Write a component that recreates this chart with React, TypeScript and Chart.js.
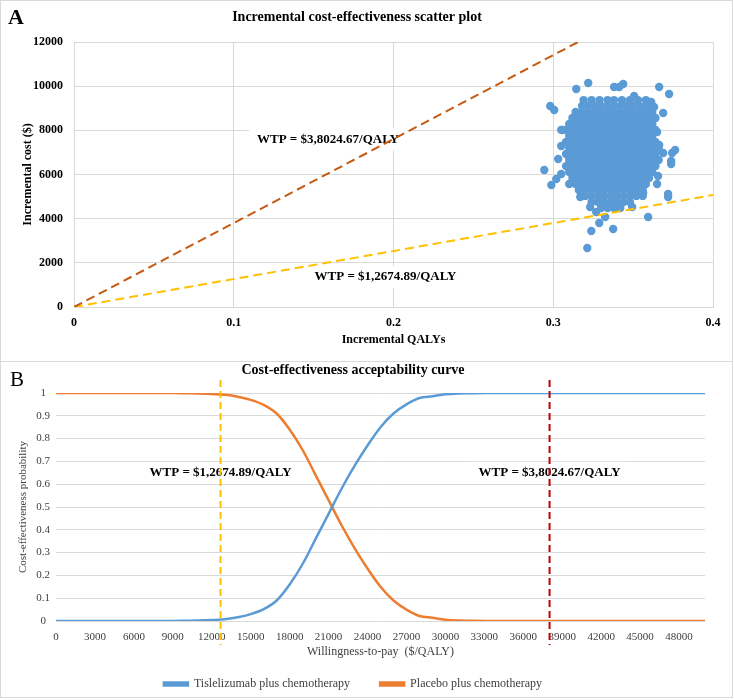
import React, { useEffect, useRef } from "react";
import { Chart, registerables } from "chart.js";

Chart.register(...registerables);

const FONT = "'Liberation Serif', 'Times New Roman', Times, serif";

// ---------- Panel A data ----------
const wtpHigh = 38024.67;
const wtpLow = 12674.89;
const wtpHighLabel = "WTP = $3,8024.67/QALY";
const wtpLowLabel = "WTP = $1,2674.89/QALY";

const qalyTicks = [0, 0.1, 0.2, 0.3, 0.4];
const costTicks = [0, 2000, 4000, 6000, 8000, 10000, 12000];

// dense core of the simulation cloud, row by row (cost value, then QALY values)
const cloudRowY = [9370, 9100, 8830, 8560, 8290, 8020, 7740, 7470, 7200, 6930, 6660, 6380, 6110, 5840, 5570, 5300, 5030, 4750, 4480];
const cloudRowX = [
  [0.319, 0.324, 0.329, 0.334, 0.338, 0.343, 0.348, 0.353, 0.358],
  [0.318, 0.322, 0.326, 0.33, 0.334, 0.338, 0.342, 0.346, 0.35, 0.354, 0.358, 0.362],
  [0.314, 0.318, 0.322, 0.326, 0.33, 0.334, 0.338, 0.342, 0.346, 0.35, 0.354, 0.358, 0.362],
  [0.312, 0.316, 0.32, 0.324, 0.328, 0.332, 0.336, 0.34, 0.344, 0.348, 0.352, 0.356, 0.36, 0.364],
  [0.31, 0.314, 0.318, 0.322, 0.326, 0.33, 0.334, 0.338, 0.342, 0.346, 0.35, 0.354, 0.358, 0.362],
  [0.305, 0.308, 0.312, 0.316, 0.32, 0.324, 0.328, 0.332, 0.336, 0.34, 0.344, 0.348, 0.352, 0.356, 0.36, 0.364],
  [0.31, 0.314, 0.318, 0.322, 0.326, 0.33, 0.334, 0.338, 0.342, 0.346, 0.35, 0.354, 0.358, 0.362],
  [0.308, 0.312, 0.316, 0.32, 0.324, 0.328, 0.332, 0.336, 0.34, 0.344, 0.348, 0.352, 0.356, 0.36, 0.364],
  [0.31, 0.314, 0.318, 0.322, 0.326, 0.33, 0.334, 0.338, 0.342, 0.346, 0.35, 0.354, 0.358, 0.362, 0.366],
  [0.308, 0.312, 0.316, 0.32, 0.324, 0.328, 0.332, 0.336, 0.34, 0.344, 0.348, 0.352, 0.356, 0.36, 0.364],
  [0.31, 0.314, 0.318, 0.322, 0.326, 0.33, 0.334, 0.338, 0.342, 0.346, 0.35, 0.354, 0.358, 0.362, 0.366],
  [0.308, 0.312, 0.316, 0.32, 0.324, 0.328, 0.332, 0.336, 0.34, 0.344, 0.348, 0.352, 0.356, 0.36, 0.364],
  [0.31, 0.314, 0.318, 0.322, 0.326, 0.33, 0.334, 0.338, 0.342, 0.346, 0.35, 0.354, 0.358, 0.362],
  [0.312, 0.316, 0.32, 0.324, 0.328, 0.332, 0.336, 0.34, 0.344, 0.348, 0.352, 0.356, 0.36],
  [0.31, 0.314, 0.318, 0.322, 0.326, 0.33, 0.334, 0.338, 0.342, 0.346, 0.35, 0.354, 0.358],
  [0.316, 0.32, 0.324, 0.328, 0.332, 0.336, 0.34, 0.344, 0.348, 0.352, 0.356],
  [0.32, 0.324, 0.328, 0.332, 0.336, 0.34, 0.344, 0.348, 0.352, 0.356],
  [0.324, 0.328, 0.332, 0.336, 0.34, 0.344, 0.348],
  [0.33, 0.334, 0.338, 0.342],
];

// scattered simulations around the core
const outlierQaly = [0.3219, 0.3144, 0.3381, 0.3413, 0.3438, 0.3663, 0.3725, 0.2981, 0.3006, 0.3688, 0.3056, 0.2944, 0.2988, 0.3763, 0.3744, 0.3738, 0.3738, 0.3688, 0.3656, 0.365, 0.3719, 0.3719, 0.3594, 0.3494, 0.3288, 0.3238, 0.3375, 0.3213, 0.3325, 0.3269, 0.3169, 0.3231, 0.3394, 0.3563, 0.3019, 0.305, 0.3031, 0.305, 0.3613, 0.3631, 0.3506, 0.3663, 0.365];
const outlierCost = [10143, 9871, 9962, 9962, 10097, 9962, 9645, 9101, 8920, 8784, 8015, 6203, 5524, 7109, 6973, 6611, 6475, 6973, 5932, 5569, 5117, 4981, 4075, 4528, 3804, 3441, 3532, 2672, 4075, 4302, 4981, 4528, 4709, 5162, 5796, 6022, 6701, 7290, 9282, 9056, 9554, 7335, 7924];

// ---------- Panel B data ----------
const wtpAxis = [0, 1000, 2000, 3000, 4000, 5000, 6000, 7000, 8000, 9000, 10000, 11000, 12000, 13000, 14000, 15000, 16000, 17000, 18000, 19000, 20000, 21000, 22000, 23000, 24000, 25000, 26000, 27000, 28000, 29000, 30000, 31000, 32000, 33000, 34000, 35000, 36000, 37000, 38000, 39000, 40000, 41000, 42000, 43000, 44000, 45000, 46000, 47000, 48000, 49000, 50000];
const probTislelizumab = [0, 0, 0, 0, 0, 0, 0, 0, 0, 0, 0.001, 0.002, 0.004, 0.008, 0.016, 0.03, 0.052, 0.09, 0.16, 0.25, 0.36, 0.47, 0.58, 0.68, 0.77, 0.85, 0.91, 0.95, 0.978, 0.986, 0.994, 0.998, 0.999, 1, 1, 1, 1, 1, 1, 1, 1, 1, 1, 1, 1, 1, 1, 1, 1, 1, 1];
const probPlacebo = [1, 1, 1, 1, 1, 1, 1, 1, 1, 1, 0.999, 0.998, 0.996, 0.992, 0.984, 0.97, 0.948, 0.91, 0.84, 0.75, 0.64, 0.53, 0.42, 0.32, 0.23, 0.15, 0.09, 0.05, 0.022, 0.014, 0.006, 0.002, 0.001, 0, 0, 0, 0, 0, 0, 0, 0, 0, 0, 0, 0, 0, 0, 0, 0, 0, 0];
const wtpTicks = [0, 3000, 6000, 9000, 12000, 15000, 18000, 21000, 24000, 27000, 30000, 33000, 36000, 39000, 42000, 45000, 48000];
const probTicks = [0, 0.1, 0.2, 0.3, 0.4, 0.5, 0.6, 0.7, 0.8, 0.9, 1];

const GRID = "#d9d9d9";

function drawLabel(ctx: CanvasRenderingContext2D, text: string, cx: number, cy: number, box: boolean) {
  ctx.save();
  ctx.font = `bold 13px ${FONT}`;
  const w = ctx.measureText(text).width;
  if (box) {
    ctx.fillStyle = "#ffffff";
    ctx.fillRect(cx - w / 2 - 8, cy - 11, w + 16, 22);
  }
  ctx.fillStyle = "#000";
  ctx.textAlign = "center";
  ctx.textBaseline = "middle";
  ctx.fillText(text, cx, cy);
  ctx.restore();
}

function ScatterPanel() {
  const ref = useRef<HTMLCanvasElement>(null);
  useEffect(() => {
    const pts: { x: number; y: number }[] = [];
    cloudRowY.forEach((y, r) => cloudRowX[r].forEach((x) => pts.push({ x, y })));
    outlierQaly.forEach((x, i) => pts.push({ x, y: outlierCost[i] }));

    const annot = {
      id: "annotA",
      beforeDatasetsDraw(chart: any) {
        const { ctx, scales } = chart;
        drawLabel(ctx, wtpHighLabel, scales.x.getPixelForValue(0.159), scales.y.getPixelForValue(7600), true);
        drawLabel(ctx, wtpLowLabel, scales.x.getPixelForValue(0.195), scales.y.getPixelForValue(1360), true);
      },
    };

    const tickFont = { family: FONT, size: 12, weight: "bold" as const };
    const chart = new Chart(ref.current!, {
      type: "scatter",
      data: {
        datasets: [
          {
            type: "line",
            data: [{ x: 0, y: 0 }, { x: 12000 / wtpHigh, y: 12000 }],
            borderColor: "#C55A11",
            borderWidth: 2,
            borderDash: [9, 5],
            pointRadius: 0,
            fill: false,
          } as any,
          {
            type: "line",
            data: [{ x: 0, y: 0 }, { x: 0.4, y: 0.4 * wtpLow }],
            borderColor: "#FFC000",
            borderWidth: 2,
            borderDash: [9, 5],
            pointRadius: 0,
            fill: false,
          } as any,
          {
            data: pts,
            backgroundColor: "#5B9BD5",
            borderWidth: 0,
            pointRadius: 4.2,
          },
        ],
      },
      options: {
        animation: false,
        responsive: false,
        layout: { padding: { left: 0, right: 19, top: 0, bottom: 0 } },
        plugins: {
          legend: { display: false },
          tooltip: { enabled: false },
          title: {
            display: true,
            text: "Incremental cost-effectiveness scatter plot",
            color: "#000",
            font: { family: FONT, size: 14, weight: "bold" },
            padding: { top: 8, bottom: 16.2 },
          },
        },
        scales: {
          x: {
            type: "linear",
            min: 0,
            max: 0.4,
            afterBuildTicks: (s: any) => {
              s.ticks = qalyTicks.map((v) => ({ value: v }));
            },
            afterFit: (s: any) => {
              s.height = 54;
            },
            ticks: { callback: (v: any) => String(v), color: "#000", font: tickFont, padding: 9, maxRotation: 0 },
            grid: { color: GRID, drawTicks: false },
            border: { color: GRID },
            title: {
              display: true,
              text: "Incremental QALYs",
              color: "#000",
              font: { family: FONT, size: 12, weight: "bold" },
              padding: { top: 0, bottom: 13.8 },
            },
          },
          y: {
            min: 0,
            max: 12000,
            afterBuildTicks: (s: any) => {
              s.ticks = costTicks.map((v) => ({ value: v }));
            },
            afterFit: (s: any) => {
              s.width = 73;
            },
            ticks: { callback: (v: any) => String(v), color: "#000", font: tickFont, padding: 11 },
            grid: { color: GRID, drawTicks: false },
            border: { color: GRID },
            title: {
              display: true,
              text: "Incremental cost ($)",
              color: "#000",
              font: { family: FONT, size: 12, weight: "bold" },
              padding: { top: 19.8, bottom: 0 },
            },
          },
        },
      },
      plugins: [annot],
    });
    return () => chart.destroy();
  }, []);
  return <canvas ref={ref} width={731} height={360} style={{ position: "absolute", left: 1, top: 1 }} />;
}

function CeacPanel() {
  const ref = useRef<HTMLCanvasElement>(null);
  useEffect(() => {
    const wtpLines = {
      id: "wtpLinesB",
      afterDatasetsDraw(chart: any) {
        const { ctx, scales, chartArea } = chart;
        const yText = scales.y.getPixelForValue(0.65);
        drawLabel(ctx, wtpLowLabel, scales.x.getPixelForValue(wtpLow), yText, false);
        drawLabel(ctx, wtpHighLabel, scales.x.getPixelForValue(wtpHigh), yText, true);
        const vline = (v: number, color: string) => {
          const x = scales.x.getPixelForValue(v);
          ctx.save();
          ctx.strokeStyle = color;
          ctx.lineWidth = 2;
          ctx.setLineDash([7, 4]);
          ctx.beginPath();
          ctx.moveTo(x, chartArea.top - 13);
          ctx.lineTo(x, chartArea.bottom + 24);
          ctx.stroke();
          ctx.restore();
        };
        vline(wtpLow, "#FFC000");
        vline(wtpHigh, "#C00000");
      },
    };

    const chart = new Chart(ref.current!, {
      type: "line",
      data: {
        datasets: [
          {
            label: "Tislelizumab plus chemotherapy",
            data: wtpAxis.map((x, i) => ({ x, y: probTislelizumab[i] })),
            borderColor: "#5B9BD5",
            backgroundColor: "#5B9BD5",
            borderWidth: 2.5,
            pointRadius: 0,
            cubicInterpolationMode: "monotone",
          },
          {
            label: "Placebo plus chemotherapy",
            data: wtpAxis.map((x, i) => ({ x, y: probPlacebo[i] })),
            borderColor: "#ED7D31",
            backgroundColor: "#ED7D31",
            borderWidth: 2.5,
            pointRadius: 0,
            cubicInterpolationMode: "monotone",
          },
        ],
      },
      options: {
        animation: false,
        responsive: false,
        layout: { padding: { left: 0, right: 27, top: 0, bottom: -3 } },
        plugins: {
          tooltip: { enabled: false },
          title: {
            display: true,
            text: "Cost-effectiveness acceptability curve",
            color: "#000",
            font: { family: FONT, size: 14, weight: "bold" },
            padding: { top: 0, bottom: 14.2 },
          },
          legend: {
            position: "bottom",
            labels: {
              boxWidth: 24,
              boxHeight: 3,
              padding: 30,
              color: "#404040",
              font: { family: FONT, size: 12 },
            },
          },
        },
        scales: {
          x: {
            type: "linear",
            min: 0,
            max: 50000,
            afterBuildTicks: (s: any) => {
              s.ticks = wtpTicks.map((v) => ({ value: v }));
            },
            afterFit: (s: any) => {
              s.height = 27;
            },
            ticks: {
              callback: (v: any) => String(v),
              autoSkip: false,
              maxRotation: 0,
              color: "#404040",
              font: { family: FONT, size: 11 },
              padding: 9.5,
            },
            grid: { display: false, drawTicks: false },
            border: { display: false },
            title: {
              display: true,
              text: "Willingness-to-pay  ($/QALY)",
              color: "#404040",
              font: { family: FONT, size: 12 },
              padding: { top: 0, bottom: -11.2 },
            },
          },
          y: {
            min: 0,
            max: 1,
            afterBuildTicks: (s: any) => {
              s.ticks = probTicks.map((v) => ({ value: v }));
            },
            afterFit: (s: any) => {
              s.width = 55;
            },
            ticks: {
              callback: (v: any) => String(v),
              crossAlign: "center",
              color: "#404040",
              font: { family: FONT, size: 11 },
              padding: 6,
            },
            grid: { color: GRID, drawTicks: false },
            border: { display: false },
            title: {
              display: true,
              text: "Cost-effectiveness probability",
              color: "#404040",
              font: { family: FONT, size: 11 },
              padding: { top: 15.4, bottom: 0 },
            },
          },
        },
      },
      plugins: [wtpLines],
    });
    return () => chart.destroy();
  }, []);
  return <canvas ref={ref} width={731} height={335} style={{ position: "absolute", left: 1, top: 362 }} />;
}

export default function App() {
  const border = "1px solid #d9d9d9";
  return (
    <div style={{ position: "absolute", left: 0, top: 0, width: 734, height: 700, background: "#fff", overflow: "hidden" }}>
      <div style={{ position: "absolute", left: 1, top: 1, width: 731, height: 360, border, boxSizing: "content-box", marginLeft: -1, marginTop: -1 }} />
      <div style={{ position: "absolute", left: 1, top: 362, width: 731, height: 335, border, boxSizing: "content-box", marginLeft: -1, marginTop: -1 }} />
      <ScatterPanel />
      <CeacPanel />
      <div style={{ position: "absolute", left: 8, top: 6, fontFamily: FONT, fontWeight: "bold", fontSize: 22, lineHeight: "22px", color: "#000" }}>A</div>
      <div style={{ position: "absolute", left: 10, top: 369, fontFamily: FONT, fontSize: 21, lineHeight: "21px", color: "#000" }}>B</div>
    </div>
  );
}
